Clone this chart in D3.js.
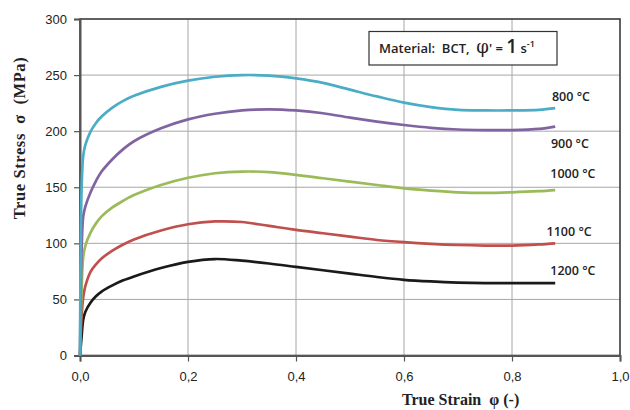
<!DOCTYPE html>
<html>
<head>
<meta charset="utf-8">
<script src="https://cdn.jsdelivr.net/npm/d3@7"></script>
<style>
  body { margin: 0; background: #fff; }
  svg { display: block; }
  svg text { white-space: pre; }
</style>
</head>
<body>
<svg id="chart" width="630" height="410"></svg>
<script>
// True strain sample points shared by all flow curves
const strain = [0, 0.003, 0.006, 0.01, 0.02, 0.03, 0.04, 0.06, 0.08, 0.1, 0.15, 0.2, 0.25, 0.3,
  0.35, 0.4, 0.45, 0.5, 0.55, 0.6, 0.65, 0.7, 0.75, 0.8, 0.85, 0.88];

// True stress (MPa) for each test temperature
const stress800 = [0, 150, 178, 188, 200, 207.5, 213, 221, 227, 231.5, 239.5, 245, 248.5, 250,
  249.5, 247, 243, 237, 231, 225.5, 221.5, 219, 218.5, 218.5, 219, 220.5];
const stress900 = [0, 95, 124, 133, 146, 156, 164, 175, 184, 191, 202.5, 210.5, 215.5, 218.5,
  219.5, 218.5, 216, 212, 208.5, 205.5, 203, 201.5, 201, 201, 202, 204];
const stress1000 = [0, 60, 88, 98, 110, 118, 124, 132, 138, 143, 152, 158.5, 162.5, 164,
  163.5, 161, 158, 155, 152, 149, 147, 145.5, 145, 145.5, 146.5, 147.5];
const stress1100 = [0, 35, 52, 62, 75, 81.5, 86.5, 93.5, 99, 103.5, 111.5, 117, 119.5, 119,
  115.5, 112, 109, 106, 103, 101, 99.5, 98.5, 98, 98, 99, 100];
const stress1200 = [0, 17, 32, 39, 47.5, 53, 57, 62.5, 67, 70.5, 78, 83.5, 86, 84.5,
  82, 79, 76, 73, 70, 67.5, 66, 65, 64.5, 64.5, 64.5, 64.5];

const seriesNames = ["800 °C", "900 °C", "1000 °C", "1100 °C", "1200 °C"];
const seriesValues = [stress800, stress900, stress1000, stress1100, stress1200];
const seriesColors = ["#4bacc6", "#8064a2", "#9bbb59", "#c0504d", "#1a1a1a"];

const xTicks = [0, 0.2, 0.4, 0.6, 0.8, 1.0];
const yTicks = [0, 50, 100, 150, 200, 250, 300];

const svg = d3.select("#chart");
const margin = { left: 80, top: 19, right: 10, bottom: 54.5 };
const W = 630, H = 410;
const innerW = W - margin.left - margin.right;
const innerH = H - margin.top - margin.bottom;

const x = d3.scaleLinear().domain([0, 1.0]).range([margin.left, margin.left + innerW]);
const y = d3.scaleLinear().domain([0, 300]).range([margin.top + innerH, margin.top]);

const fmt = d => d3.format(".1f")(d).replace(".", ",");

// Grid lines
const grid = svg.append("g");
grid.selectAll("line.gx").data(xTicks.slice(1, -1)).join("line")
  .attr("x1", d => x(d)).attr("x2", d => x(d))
  .attr("y1", y(0)).attr("y2", y(300))
  .attr("stroke", "#a6a6a6").attr("stroke-width", 1);
grid.selectAll("line.gy").data(yTicks.slice(1, -1)).join("line")
  .attr("x1", x(0)).attr("x2", x(1))
  .attr("y1", d => y(d)).attr("y2", d => y(d))
  .attr("stroke", "#a6a6a6").attr("stroke-width", 1);

// Plot frame
svg.append("rect")
  .attr("x", x(0)).attr("y", y(300))
  .attr("width", x(1) - x(0)).attr("height", y(0) - y(300))
  .attr("fill", "none").attr("stroke", "#3a3a3a").attr("stroke-width", 1.6);

// Axes
const xAxis = svg.append("g")
  .attr("transform", `translate(0,${y(0)})`)
  .call(d3.axisBottom(x).tickValues(xTicks).tickFormat(fmt).tickSize(6).tickPadding(10));
const yAxis = svg.append("g")
  .attr("transform", `translate(${x(0)},0)`)
  .call(d3.axisLeft(y).tickValues(yTicks).tickSize(6).tickPadding(7));

[xAxis, yAxis].forEach(a => {
  a.select(".domain").attr("stroke", "#555").attr("stroke-width", 2);
  a.selectAll(".tick line").attr("stroke", "#555").attr("stroke-width", 1.2);
  a.selectAll(".tick text")
    .attr("font-family", "Liberation Sans, Arial, sans-serif")
    .attr("font-size", 13).attr("fill", "#222");
});

// Flow curves
const line = d3.line()
  .x(d => x(d[0])).y(d => y(d[1]))
  .curve(d3.curveCatmullRom.alpha(0.5));

svg.append("g").selectAll("path").data(seriesValues.slice().reverse()).join("path")
  .attr("d", vals => line(strain.map((s, i) => [s, vals[i]])))
  .attr("fill", "none")
  .attr("stroke", (d, i) => seriesColors[seriesColors.length - 1 - i])
  .attr("stroke-width", 2.7)
  .attr("stroke-linejoin", "round");

// Curve labels
const labelPos = [[0.874, 101], [0.872, 148], [0.871, 178], [0.864, 235.5], [0.871, 275]];
svg.append("g").selectAll("text").data(seriesNames).join("text")
  .attr("x", (d, i) => x(labelPos[i][0]))
  .attr("y", (d, i) => labelPos[i][1])
  .attr("font-family", "Open Sans, Liberation Sans, sans-serif")
  .attr("font-size", 12.5).attr("font-weight", 600).attr("fill", "#222")
  .text(d => d);

// Material note box
const note = svg.append("g");
note.append("rect")
  .attr("x", 369).attr("y", 31.5).attr("width", 188).attr("height", 33.5)
  .attr("fill", "#fff").attr("stroke", "#333").attr("stroke-width", 1.2);
const noteText = note.append("text")
  .attr("x", 379).attr("y", 53)
  .attr("font-family", "Open Sans, Liberation Sans, sans-serif")
  .attr("font-size", 13).attr("font-weight", 600).attr("fill", "#222");
noteText.append("tspan").text("Material:  BCT,  ");
noteText.append("tspan").attr("font-size", 18).attr("font-weight", 400)
  .attr("font-family", "DejaVu Serif, serif").text("φ");
noteText.append("tspan").text("' = ");
noteText.append("tspan").attr("font-size", 19).text("1");
noteText.append("tspan").text(" s");
noteText.append("tspan").attr("font-size", 9).attr("dy", -6).text("-1");

// Axis titles
svg.append("text")
  .attr("x", 402).attr("y", 404.5)
  .attr("font-family", "Liberation Serif, Times New Roman, serif")
  .attr("font-size", 16).attr("font-weight", "bold").attr("fill", "#222")
  .text("True Strain  φ (-)");

svg.append("text")
  .attr("transform", "translate(25,138) rotate(-90)")
  .attr("text-anchor", "middle")
  .attr("font-family", "Liberation Serif, Times New Roman, serif")
  .attr("font-size", 16.5).attr("font-weight", "bold").attr("fill", "#222")
  .attr("letter-spacing", 0.6)
  .text("True Stress  σ  (MPa)");
</script>
</body>
</html>
